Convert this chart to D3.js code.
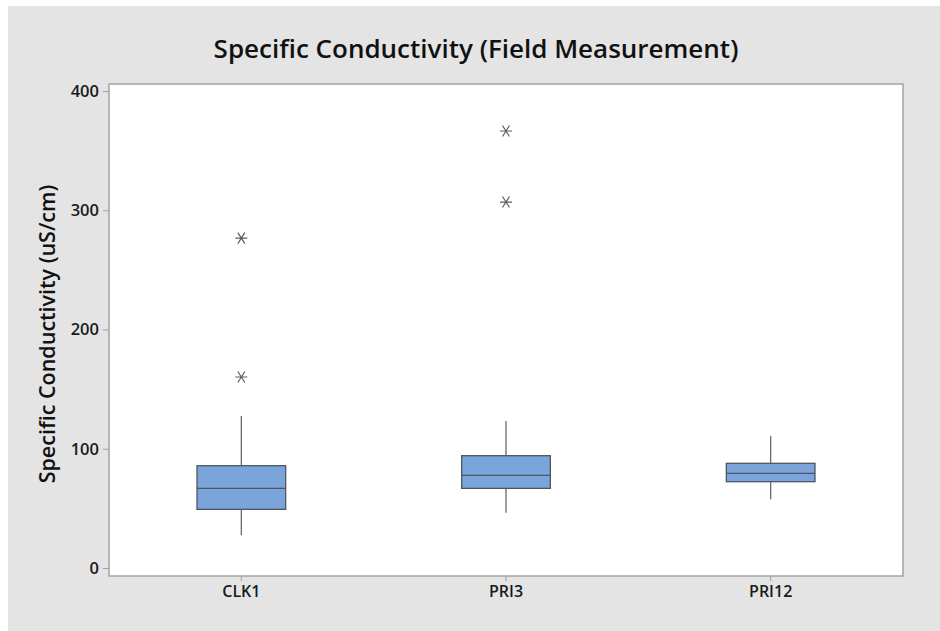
<!DOCTYPE html>
<html>
<head>
<meta charset="utf-8">
<script src="https://cdn.jsdelivr.net/npm/d3@7"></script>
<style>
  body { margin: 0; background: #fff; }
  svg { display: block; font-family: "Open Sans", "Noto Sans", sans-serif; }
</style>
</head>
<body>
<svg id="chart" width="940" height="631"></svg>
<script>
// Dades (llegides de la imatge)
const categories = ["CLK1", "PRI3", "PRI12"];
const whiskerLow  = [27.4, 46.4, 57.6];
const q1          = [49.2, 66.8, 72.4];
const medians     = [66.8, 77.7, 79.4];
const q3          = [85.8, 94.2, 87.8];
const whiskerHigh = [127.5, 123.3, 110.7];
const outliers    = [[276.7, 160.2], [366.5, 306.9], []];
const yTicks = [0, 100, 200, 300, 400];

const rows = categories.map((c, i) => ({
    cat: c, lo: whiskerLow[i], q1: q1[i], med: medians[i], q3: q3[i], hi: whiskerHigh[i], out: outliers[i]
}));

const svg = d3.select("#chart");

// fons gris
svg.append("rect")
    .attr("x", 8).attr("y", 6)
    .attr("width", 932).attr("height", 625)
    .attr("fill", "#e4e4e4");

const plot = { left: 109, top: 84, right: 903, bottom: 576 };

const x = d3.scaleBand()
    .domain(categories)
    .range([plot.left, plot.right])
    .padding(0);

const y = d3.scaleLinear()
    .domain([-6.7, 405.9])
    .range([plot.bottom, plot.top]);

// àrea de dibuix
svg.append("rect")
    .attr("x", plot.left).attr("y", plot.top)
    .attr("width", plot.right - plot.left).attr("height", plot.bottom - plot.top)
    .attr("fill", "#fff")
    .attr("stroke", "#a3a3a3")
    .attr("stroke-width", 1.5);

// Eix Y
const yAxis = svg.append("g")
    .attr("transform", `translate(${plot.left},0)`)
    .call(d3.axisLeft(y).tickValues(yTicks).tickSize(6).tickPadding(4));
yAxis.select(".domain").remove();
yAxis.selectAll(".tick line").attr("stroke", "#a0a0a0");
yAxis.selectAll(".tick text")
    .attr("font-size", "16.5px")
    .attr("font-weight", 600)
    .attr("fill", "#1a1a1a")
    .attr("font-family", "\"Open Sans\", sans-serif");

// Eix X
const xAxis = svg.append("g")
    .attr("transform", `translate(0,${plot.bottom})`)
    .call(d3.axisBottom(x).tickSize(5).tickPadding(5));
xAxis.select(".domain").remove();
xAxis.selectAll(".tick line").attr("stroke", "#a0a0a0");
xAxis.selectAll(".tick text")
    .attr("font-size", "16px")
    .attr("font-weight", 600)
    .attr("fill", "#1a1a1a")
    .attr("font-family", "\"Open Sans\", sans-serif");

const boxW = x.bandwidth() * 0.335;
const cx = d => x(d.cat) + x.bandwidth() / 2;

const g = svg.append("g").selectAll("g")
    .data(rows)
    .enter()
    .append("g");

// bigotis
g.append("line")
    .attr("x1", cx).attr("x2", cx)
    .attr("y1", d => y(d.q3)).attr("y2", d => y(d.hi))
    .attr("stroke", "#6b6b6b").attr("stroke-width", 1.3);
g.append("line")
    .attr("x1", cx).attr("x2", cx)
    .attr("y1", d => y(d.q1)).attr("y2", d => y(d.lo))
    .attr("stroke", "#6b6b6b").attr("stroke-width", 1.3);

// caixes
g.append("rect")
    .attr("x", d => cx(d) - boxW / 2)
    .attr("y", d => y(d.q3))
    .attr("width", boxW)
    .attr("height", d => y(d.q1) - y(d.q3))
    .attr("fill", "#7ba5da")
    .attr("stroke", "#4d5561")
    .attr("stroke-width", 1.3);

// mediana
g.append("line")
    .attr("x1", d => cx(d) - boxW / 2).attr("x2", d => cx(d) + boxW / 2)
    .attr("y1", d => y(d.med)).attr("y2", d => y(d.med))
    .attr("stroke", "#4d5561").attr("stroke-width", 1.3);

// valors atípics (asterisc)
const star = "M-6,0L6,0M-3.5,-5.5L3.5,5.5M-3.5,5.5L3.5,-5.5";
g.selectAll(".out")
    .data(d => d.out.map(v => ({ cat: d.cat, v })))
    .enter()
    .append("path")
    .attr("class", "out")
    .attr("transform", d => `translate(${cx(d)},${y(d.v)})`)
    .attr("d", star)
    .attr("fill", "none")
    .attr("stroke", "#5e5e5e")
    .attr("stroke-width", 1.2);

// Títol
svg.append("text")
    .attr("x", 476)
    .attr("y", 58)
    .attr("text-anchor", "middle")
    .attr("font-size", "26px")
    .attr("font-weight", 600)
    .attr("fill", "#111")
    .text("Specific Conductivity (Field Measurement)");

// Etiqueta eix Y
svg.append("text")
    .attr("transform", "rotate(-90)")
    .attr("x", -334)
    .attr("y", 55)
    .attr("text-anchor", "middle")
    .attr("font-size", "21.5px")
    .attr("font-weight", 600)
    .attr("fill", "#111")
    .text("Specific Conductivity (uS/cm)");
</script>
</body>
</html>
